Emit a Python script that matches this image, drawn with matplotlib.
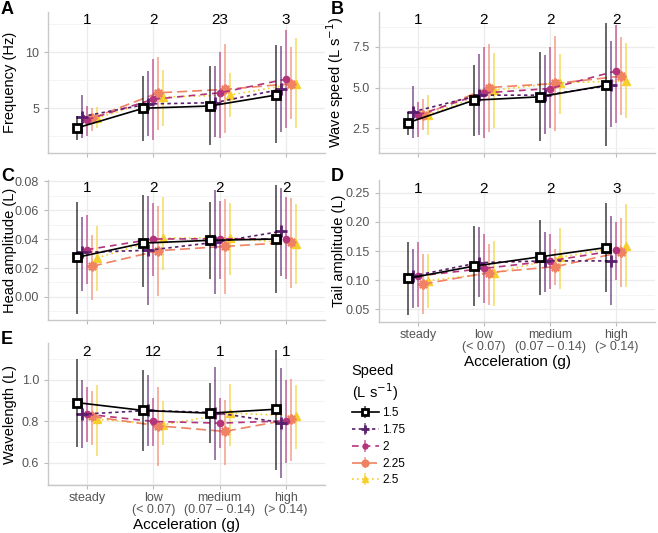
import matplotlib
matplotlib.use("Agg")
import matplotlib.pyplot as plt
from matplotlib.ticker import AutoMinorLocator
from matplotlib.colors import to_rgba

plt.rcParams["font.family"] = ["Liberation Sans", "DejaVu Sans"]

categories = ["steady", "low\n(< 0.07)", "medium\n(0.07 – 0.14)", "high\n(> 0.14)"]
speeds = ["1.5", "1.75", "2", "2.25", "2.5"]

# frequency (Hz): rows = speeds, cols = acceleration categories
freq_mean = [[3.24, 5.0, 5.2, 6.18], [4.26, 5.38, 5.5, 6.7], [3.97, 5.8, 6.38, 7.6],
             [4.1, 6.38, 6.68, 7.2], [4.1, 6.0, 6.18, 7.2]]
freq_lo = [[2.2, 2.05, 1.7, 1.85], [2.35, 2.5, 2.4, 2.85], [2.55, 2.15, 2.35, 3.25],
           [3.0, 3.1, 2.8, 4.0], [3.25, 3.45, 4.26, 3.25]]
freq_hi = [[4.3, 7.85, 8.8, 10.65], [6.2, 8.3, 8.75, 10.6], [5.2, 9.4, 10.0, 12.0],
           [5.0, 9.6, 10.7, 10.45], [5.15, 8.45, 8.15, 11.25]]
freq_groups = ["1", "2", "23", "3"]

# wave speed (L/s)
wave_mean = [[2.83, 4.22, 4.43, 5.14], [3.5, 4.53, 4.53, 5.14], [3.3, 4.67, 4.94, 6.02],
             [3.3, 5.0, 5.25, 5.7], [3.3, 4.84, 5.29, 5.41]]
wave_lo = [[2.07, 2.0, 1.7, 1.4], [1.87, 2.07, 2.17, 2.54], [1.97, 1.87, 2.48, 2.79],
           [2.38, 2.27, 2.34, 3.3], [2.07, 2.48, 3.4, 3.1]]
wave_hi = [[3.5, 6.41, 7.19, 8.98], [5.08, 7.09, 6.99, 7.85], [4.12, 7.5, 7.5, 8.83],
           [4.32, 7.7, 8.16, 8.11], [4.57, 7.13, 7.09, 7.75]]
wave_groups = ["1", "2", "2", "2"]

# head amplitude (L)
head_mean = [[0.0274, 0.0373, 0.0392, 0.0401], [0.0309, 0.0323, 0.0378, 0.0454],
             [0.0327, 0.0401, 0.0403, 0.0401], [0.0212, 0.032, 0.035, 0.0378],
             [0.027, 0.0408, 0.0408, 0.0369]]
head_lo = [[-0.0115, 0.0069, 0.0124, 0.0028], [0.0039, -0.0053, 0.0021, 0.0143],
           [0.009, 0.0143, 0.0124, 0.0124], [-0.0018, 0.0009, 0.0021, 0.0062],
           [0.0039, 0.0189, 0.0154, 0.009]]
head_hi = [[0.0657, 0.0708, 0.0657, 0.0777], [0.0553, 0.0696, 0.0742, 0.0754],
           [0.0569, 0.065, 0.0662, 0.0692], [0.0431, 0.0627, 0.0678, 0.0685],
           [0.0489, 0.0692, 0.065, 0.0646]]
head_groups = ["1", "2", "2", "2"]

# tail amplitude (L)
tail_mean = [[0.103, 0.124, 0.140, 0.156], [0.107, 0.130, 0.133, 0.133],
             [0.107, 0.120, 0.133, 0.151], [0.093, 0.113, 0.123, 0.148],
             [0.099, 0.112, 0.139, 0.159]]
tail_lo = [[0.040, 0.055, 0.075, 0.079], [0.052, 0.071, 0.080, 0.057],
           [0.053, 0.060, 0.084, 0.100], [0.042, 0.057, 0.092, 0.089],
           [0.052, 0.056, 0.084, 0.088]]
tail_hi = [[0.166, 0.193, 0.203, 0.232], [0.153, 0.191, 0.183, 0.210],
           [0.166, 0.179, 0.179, 0.200], [0.145, 0.162, 0.153, 0.206],
           [0.145, 0.168, 0.189, 0.231]]
tail_groups = ["1", "2", "2", "3"]

# wavelength (L)
wl_mean = [[0.891, 0.853, 0.840, 0.859], [0.835, 0.853, 0.843, 0.795],
           [0.835, 0.800, 0.792, 0.803], [0.824, 0.779, 0.752, 0.811],
           [0.811, 0.784, 0.840, 0.827]]
wl_lo = [[0.677, 0.656, 0.696, 0.568], [0.672, 0.683, 0.616, 0.528],
         [0.700, 0.683, 0.672, 0.600], [0.688, 0.584, 0.592, 0.608],
         [0.635, 0.688, 0.683, 0.667]]
wl_hi = [[1.10, 1.05, 0.984, 1.144], [1.00, 1.024, 1.064, 1.056],
         [0.968, 0.912, 0.912, 1.00], [0.949, 0.965, 0.904, 1.003],
         [0.976, 0.90, 0.981, 0.976]]
wl_groups = ["2", "12", "1", "1"]

colors = ["black", "#5a1f6c", "#b4347c", "#ee8262", "#f6cf2c"]
styles = ["-", (0, (2, 2)), (0, (4, 3)), (0, (6, 3)), (0, (1, 2))]
markers = ["s", "+", "o", (8, 2, 0), "^"]
msizes = [6, 8, 4.5, 7, 5.5]
offsets = [-0.15, -0.075, 0, 0.075, 0.15]

fig = plt.figure(figsize=(6.58, 5.33), dpi=100)
W, H = 658, 533


def make_ax(l, t, r, b):
    return fig.add_axes([l / W, 1 - b / H, (r - l) / W, (b - t) / H])


panels = [
    ("A", make_ax(48, 12, 325, 153), freq_mean, freq_lo, freq_hi, freq_groups,
     "Frequency (Hz)", (1.0, 13.6), [5, 10], ["5", "10"], False),
    ("B", make_ax(379, 12, 655, 153), wave_mean, wave_lo, wave_hi, wave_groups,
     "Wave speed (L s$^{-1}$)", (0.97, 9.65), [2.5, 5.0, 7.5], ["2.5", "5.0", "7.5"], False),
    ("C", make_ax(48, 180, 325, 320), head_mean, head_lo, head_hi, head_groups,
     "Head amplitude (L)", (-0.016, 0.081), [0, 0.02, 0.04, 0.06, 0.08],
     ["0.00", "0.02", "0.04", "0.06", "0.08"], False),
    ("D", make_ax(379, 180, 655, 322), tail_mean, tail_lo, tail_hi, tail_groups,
     "Tail amplitude (L)", (0.028, 0.272), [0.05, 0.10, 0.15, 0.20, 0.25],
     ["0.05", "0.10", "0.15", "0.20", "0.25"], True),
    ("E", make_ax(48, 343, 325, 485), wl_mean, wl_lo, wl_hi, wl_groups,
     "Wavelength (L)", (0.494, 1.178), [0.6, 0.8, 1.0], ["0.6", "0.8", "1.0"], True),
]

handles = None
for letter, ax, mean, lo, hi, groups, ylabel, ylim, yt, ytl, show_x in panels:
    conts = []
    for i in reversed(range(len(speeds))):
        xs = [k + 1 + offsets[i] for k in range(len(categories))]
        yerr = [[m - l for m, l in zip(mean[i], lo[i])],
                [h - m for m, h in zip(mean[i], hi[i])]]
        face = "white" if i == 0 else colors[i]
        c = ax.errorbar(xs, mean[i], yerr=yerr, color=colors[i], ls=styles[i], lw=1.2,
                        marker=markers[i], ms=msizes[i], mfc=face, mec=colors[i],
                        mew=2.0 if i in (0, 1) else (1.6 if i == 3 else 1.0),
                        ecolor=to_rgba(colors[i], 0.7), elinewidth=1.2, capsize=0,
                        zorder=3 + (5 - i))
        conts.append(c)
    if handles is None:
        handles = conts[::-1]

    for k, g in enumerate(groups):
        ax.text(k + 1, 0.94, g, transform=ax.get_xaxis_transform(), ha="center",
                va="center", fontsize=11, color="black")

    ax.set_xlim(0.414, 4.586)
    ax.set_ylim(*ylim)
    ax.set_xticks(range(1, 5))
    ax.set_yticks(yt)
    ax.set_yticklabels(ytl)
    ax.yaxis.set_minor_locator(AutoMinorLocator(2))
    if show_x:
        ax.set_xticklabels(categories, fontsize=9, color="#555555", linespacing=1.05)
        ax.set_xlabel("Acceleration (g)", fontsize=11, labelpad=1)
    else:
        ax.set_xticklabels([])
    ax.set_ylabel(ylabel, fontsize=10.5)
    right_col = ax.get_position().x0 > 0.3
    ax.yaxis.set_label_coords(-0.12 if right_col else -0.112, 0.5)
    ax.tick_params(axis="y", labelsize=9, labelcolor="#555555", color="#bbbbbb", length=3)
    ax.tick_params(axis="x", color="#bbbbbb", length=3, pad=2)
    ax.tick_params(which="minor", length=0)
    ax.grid(True, which="major", color="#ebebeb", lw=0.9, zorder=0)
    ax.grid(True, which="minor", axis="y", color="#f3f3f3", lw=0.6, zorder=0)
    ax.set_axisbelow(True)
    for s in ["top", "right"]:
        ax.spines[s].set_visible(False)
    for s in ["left", "bottom"]:
        ax.spines[s].set_color("#c8c8c8")
        ax.spines[s].set_linewidth(1.0)

    pos = ax.get_position()
    lx = 331 / W if right_col else 1 / W
    fig.text(lx, pos.y1 + 3 / H, letter, fontsize=13, fontweight="bold",
             ha="left", va="center")

leg = fig.legend(handles, speeds, title="Speed\n(L s$^{-1}$)", loc="upper left",
                 bbox_to_anchor=(347 / W, 1 - 359 / H), frameon=False, fontsize=8.5,
                 title_fontsize=10.5, handlelength=2.3, labelspacing=0.4, handletextpad=0.3,
                 borderaxespad=0, markerscale=0.8)
leg._legend_box.align = "left"

fig.savefig("out.png", dpi=100)
